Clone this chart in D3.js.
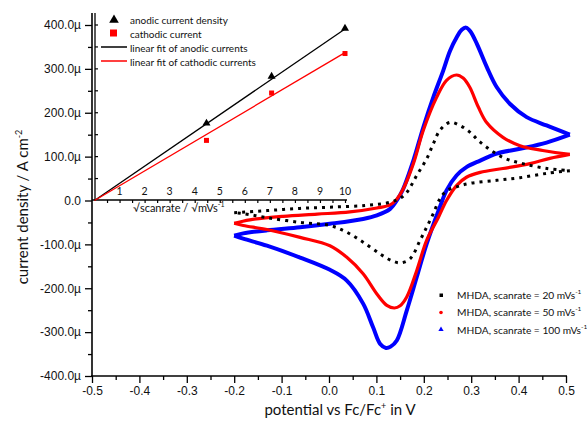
<!DOCTYPE html>
<html>
<head>
<meta charset="utf-8">
<script src="https://cdn.jsdelivr.net/npm/d3@7"></script>
<style>
body { margin: 0; background: #fff; }
svg { font-family: Lato, "Open Sans", sans-serif; }
</style>
</head>
<body>
<script>
// cyclic voltammograms, [potential V, current density µA/cm2], forward then reverse scan
const cv20Fwd = [[-0.200,-28],[-0.131,-23],[-0.061,-18],[0.008,-15],[0.080,-11],[0.129,-4],[0.150,5],[0.164,18],[0.185,57],[0.206,95],[0.220,129],[0.234,160],[0.255,178],[0.276,171],[0.297,156],[0.319,133],[0.367,98],[0.409,84],[0.460,73],[0.508,68]]
const cv20Rev = [[0.508,68],[0.460,62],[0.403,52],[0.354,46],[0.297,39],[0.269,31],[0.248,22],[0.234,4],[0.220,-30],[0.206,-61],[0.192,-91],[0.171,-133],[0.150,-142],[0.132,-137],[0.108,-122],[0.072,-95],[0.037,-72],[0.002,-57],[-0.061,-50],[-0.131,-39],[-0.181,-30],[-0.200,-28]]
const cv50Fwd = [[-0.200,-52],[-0.167,-44],[-0.097,-36],[-0.025,-31],[0.044,-26],[0.101,-17],[0.129,-10],[0.143,3],[0.156,25],[0.178,84],[0.199,160],[0.227,235],[0.248,274],[0.269,286],[0.283,279],[0.297,258],[0.315,213],[0.333,177],[0.367,144],[0.403,125],[0.451,114],[0.508,105]]
const cv50Rev = [[0.508,105],[0.466,96],[0.424,84],[0.367,73],[0.319,64],[0.290,53],[0.269,34],[0.248,0],[0.231,-38],[0.206,-91],[0.185,-160],[0.164,-220],[0.150,-240],[0.138,-245],[0.122,-239],[0.101,-213],[0.072,-167],[0.037,-129],[0.002,-103],[-0.061,-84],[-0.131,-66],[-0.181,-57],[-0.200,-52]]
const cv100Fwd = [[-0.200,-80],[-0.181,-75],[-0.131,-68],[-0.061,-61],[0.002,-53],[0.072,-42],[0.101,-34],[0.129,-19],[0.143,0],[0.156,25],[0.178,91],[0.199,167],[0.220,235],[0.241,296],[0.255,340],[0.270,373],[0.280,389],[0.289,394],[0.298,386],[0.312,357],[0.333,304],[0.354,258],[0.382,220],[0.417,190],[0.459,171],[0.508,150]]
const cv100Rev = [[0.508,150],[0.459,132],[0.403,118],[0.354,107],[0.319,91],[0.290,76],[0.269,57],[0.248,23],[0.234,-15],[0.206,-99],[0.185,-175],[0.164,-251],[0.143,-319],[0.130,-333],[0.120,-336],[0.108,-327],[0.093,-289],[0.072,-235],[0.037,-182],[0.002,-158],[-0.061,-130],[-0.131,-103],[-0.181,-87],[-0.200,-80]]

// inset: peak currents vs sqrt(scanrate)
const sqrtRate = [4.47, 7.07, 10]
const anodicPeak = [176, 283, 392]
const cathodicPeak = [137, 245, 335]
const anodicFit = [[0,0],[10,391]]
const cathodicFit = [[0,0],[10,337]]

const scanLabels = ['20', '50', '100']
const xTicks = d3.range(-0.5, 0.51, 0.1)
const yTicks = d3.range(-400, 401, 100)
const insetTicks = d3.range(1, 11)

const width = 587
const height = 425
const svg = d3.select('body').append('svg')
  .attr('width', width)
  .attr('height', height)

const x = d3.scaleLinear().domain([-0.5, 0.5]).range([92, 566])
const y = d3.scaleLinear().domain([-400, 400]).range([376, 25])
const xi = d3.scaleLinear().domain([0, 10]).range([94.5, 345])

const fmtY = d => Math.abs(d) < 1e-9 ? '0.0' : d.toFixed(1) + 'µ'
const fmtX = d => (Math.abs(d) < 1e-9 ? 0 : d).toFixed(1)

// ---- main axes
const yAxis = svg.append('g').attr('transform', 'translate(92,0)')
  .call(d3.axisLeft(y).tickValues(yTicks).tickSize(7).tickFormat(fmtY).tickPadding(4))
yAxis.select('.domain').remove()
yAxis.selectAll('text').attr('font-size', 12).attr('fill', '#111')
const yMinor = svg.append('g').attr('transform', 'translate(92,0)')
  .call(d3.axisLeft(y).tickValues(d3.range(-350, 400, 100)).tickSize(4).tickFormat(''))
yMinor.select('.domain').remove()

const xAxis = svg.append('g').attr('transform', 'translate(0,376)')
  .call(d3.axisBottom(x).tickValues(xTicks).tickSize(7).tickFormat(fmtX).tickPadding(3))
xAxis.select('.domain').remove()
xAxis.selectAll('text').attr('font-size', 12).attr('fill', '#111')
const xMinor = svg.append('g').attr('transform', 'translate(0,376)')
  .call(d3.axisBottom(x).tickValues(d3.range(-0.45, 0.5, 0.1)).tickSize(4).tickFormat(''))
xMinor.select('.domain').remove()
svg.selectAll('.tick line').attr('stroke', '#000').attr('stroke-width', 1.3)

svg.append('line').attr('x1', 92).attr('x2', 92).attr('y1', 376.5).attr('y2', 13)
  .attr('stroke', '#000').attr('stroke-width', 1.6)
svg.append('line').attr('x1', 91).attr('x2', 567).attr('y1', 376).attr('y2', 376)
  .attr('stroke', '#000').attr('stroke-width', 1.6)

svg.append('text')
  .attr('transform', 'translate(28,207) rotate(-90)')
  .attr('text-anchor', 'middle').attr('font-size', 15).attr('fill', '#111')
  .call(t => {
    t.append('tspan').text('current density / A cm')
    t.append('tspan').attr('dy', -6).attr('font-size', 9).text('-2')
  })
svg.append('text')
  .attr('x', 340).attr('y', 415)
  .attr('text-anchor', 'middle').attr('font-size', 15).attr('fill', '#111')
  .call(t => {
    t.append('tspan').text('potential vs Fc/Fc')
    t.append('tspan').attr('dy', -6).attr('font-size', 9).text('+')
    t.append('tspan').attr('dy', 6).text(' in V')
  })

// ---- inset axes
svg.append('line').attr('x1', 95).attr('x2', 95).attr('y1', 200).attr('y2', 13)
  .attr('stroke', '#000').attr('stroke-width', 1.3)
svg.append('g').selectAll('line')
  .data(d3.range(50, 401, 50))
  .join('line')
  .attr('x1', 95).attr('x2', 98)
  .attr('y1', d => y(d)).attr('y2', d => y(d))
  .attr('stroke', '#000').attr('stroke-width', 1.2)

const insetAxis = svg.append('g').attr('transform', 'translate(0,200)')
  .call(d3.axisBottom(xi).tickValues(d3.range(0.5, 10.1, 0.5)).tickSize(3).tickFormat('').tickSizeOuter(0))
insetAxis.select('.domain').attr('stroke-width', 1.3).attr('d', 'M92,0H347')
insetAxis.selectAll('line').attr('stroke-width', 1.2)
svg.append('g').selectAll('text')
  .data(insetTicks)
  .join('text')
  .attr('x', d => xi(d)).attr('y', 195)
  .attr('text-anchor', 'middle').attr('font-size', 10.5).attr('fill', '#111')
  .text(d => d)
svg.append('text')
  .attr('x', 133).attr('y', 212)
  .attr('font-size', 11).attr('fill', '#111')
  .call(t => {
    t.append('tspan').text('√scanrate / √mVs')
    t.append('tspan').attr('dy', -5).attr('font-size', 7).text('-1')
  })

// ---- CV curves
const line = d3.line()
  .x(d => x(d[0]))
  .y(d => y(d[1]))
  .curve(d3.curveCatmullRom.alpha(0.5))

const curves = [
  { data: [cv100Fwd, cv100Rev], color: '#0000ff', width: 4, dash: null },
  { data: [cv50Fwd, cv50Rev], color: '#ff0000', width: 3.2, dash: null },
  { data: [cv20Fwd, cv20Rev], color: '#000', width: 3, dash: '3 5' }
]
curves.forEach(c => {
  svg.append('g').selectAll('path')
    .data(c.data)
    .join('path')
    .attr('d', d => line(d))
    .attr('fill', 'none')
    .attr('stroke', c.color)
    .attr('stroke-width', c.width)
    .attr('stroke-dasharray', c.dash)
})

// ---- inset data
const fitLine = d3.line().x(d => xi(d[0])).y(d => y(d[1]))
svg.append('path').attr('d', fitLine(anodicFit)).attr('fill', 'none').attr('stroke', '#000').attr('stroke-width', 1.3)
svg.append('path').attr('d', fitLine(cathodicFit)).attr('fill', 'none').attr('stroke', '#ff0000').attr('stroke-width', 1.3)

const tri = d3.symbol().type(d3.symbolTriangle)
svg.append('g').selectAll('path')
  .data(sqrtRate)
  .join('path')
  .attr('d', tri.size(28))
  .attr('transform', (d, i) => `translate(${xi(d)},${y(anodicPeak[i])})`)
  .attr('fill', '#000')
svg.append('g').selectAll('rect')
  .data(sqrtRate)
  .join('rect')
  .attr('x', d => xi(d) - 2.5).attr('y', (d, i) => y(cathodicPeak[i]) - 2.5)
  .attr('width', 5).attr('height', 5)
  .attr('fill', '#ff0000')

// ---- inset legend
const leg = svg.append('g').attr('font-size', 10).attr('fill', '#111')
leg.append('path').attr('d', d3.symbol().type(d3.symbolTriangle).size(40)()).attr('transform', 'translate(114,20)').attr('fill', '#000')
leg.append('rect').attr('x', 110).attr('y', 29.5).attr('width', 7).attr('height', 7).attr('fill', '#ff0000')
leg.append('line').attr('x1', 101).attr('x2', 127).attr('y1', 47).attr('y2', 47).attr('stroke', '#000').attr('stroke-width', 1.5)
leg.append('line').attr('x1', 101).attr('x2', 127).attr('y1', 61).attr('y2', 61).attr('stroke', '#ff0000').attr('stroke-width', 1.5)
const legTexts = ['anodic current density', 'cathodic current', 'linear fit of anodic currents', 'linear fit of cathodic currents']
leg.selectAll('text')
  .data(legTexts)
  .join('text')
  .attr('x', 130).attr('y', (d, i) => 24 + i * 14)
  .text(d => d)

// ---- main legend
const leg2 = svg.append('g').attr('font-size', 10.2).attr('fill', '#111')
leg2.append('rect').attr('x', 439.5).attr('y', 293.5).attr('width', 3.5).attr('height', 3.5).attr('fill', '#000')
leg2.append('circle').attr('cx', 441).attr('cy', 312.5).attr('r', 1.8).attr('fill', '#ff0000')
leg2.append('path').attr('d', d3.symbol().type(d3.symbolTriangle).size(12)()).attr('transform', 'translate(441,329.5)').attr('fill', '#0000ff')
leg2.selectAll('text')
  .data(scanLabels)
  .join('text')
  .attr('x', 457).attr('y', (d, i) => 299 + i * 17.3)
  .call(t => {
    t.append('tspan').text(d => `MHDA, scanrate = ${d} mVs`)
    t.append('tspan').attr('dy', -5).attr('font-size', 6.5).text('-1')
  })
</script>
</body>
</html>
